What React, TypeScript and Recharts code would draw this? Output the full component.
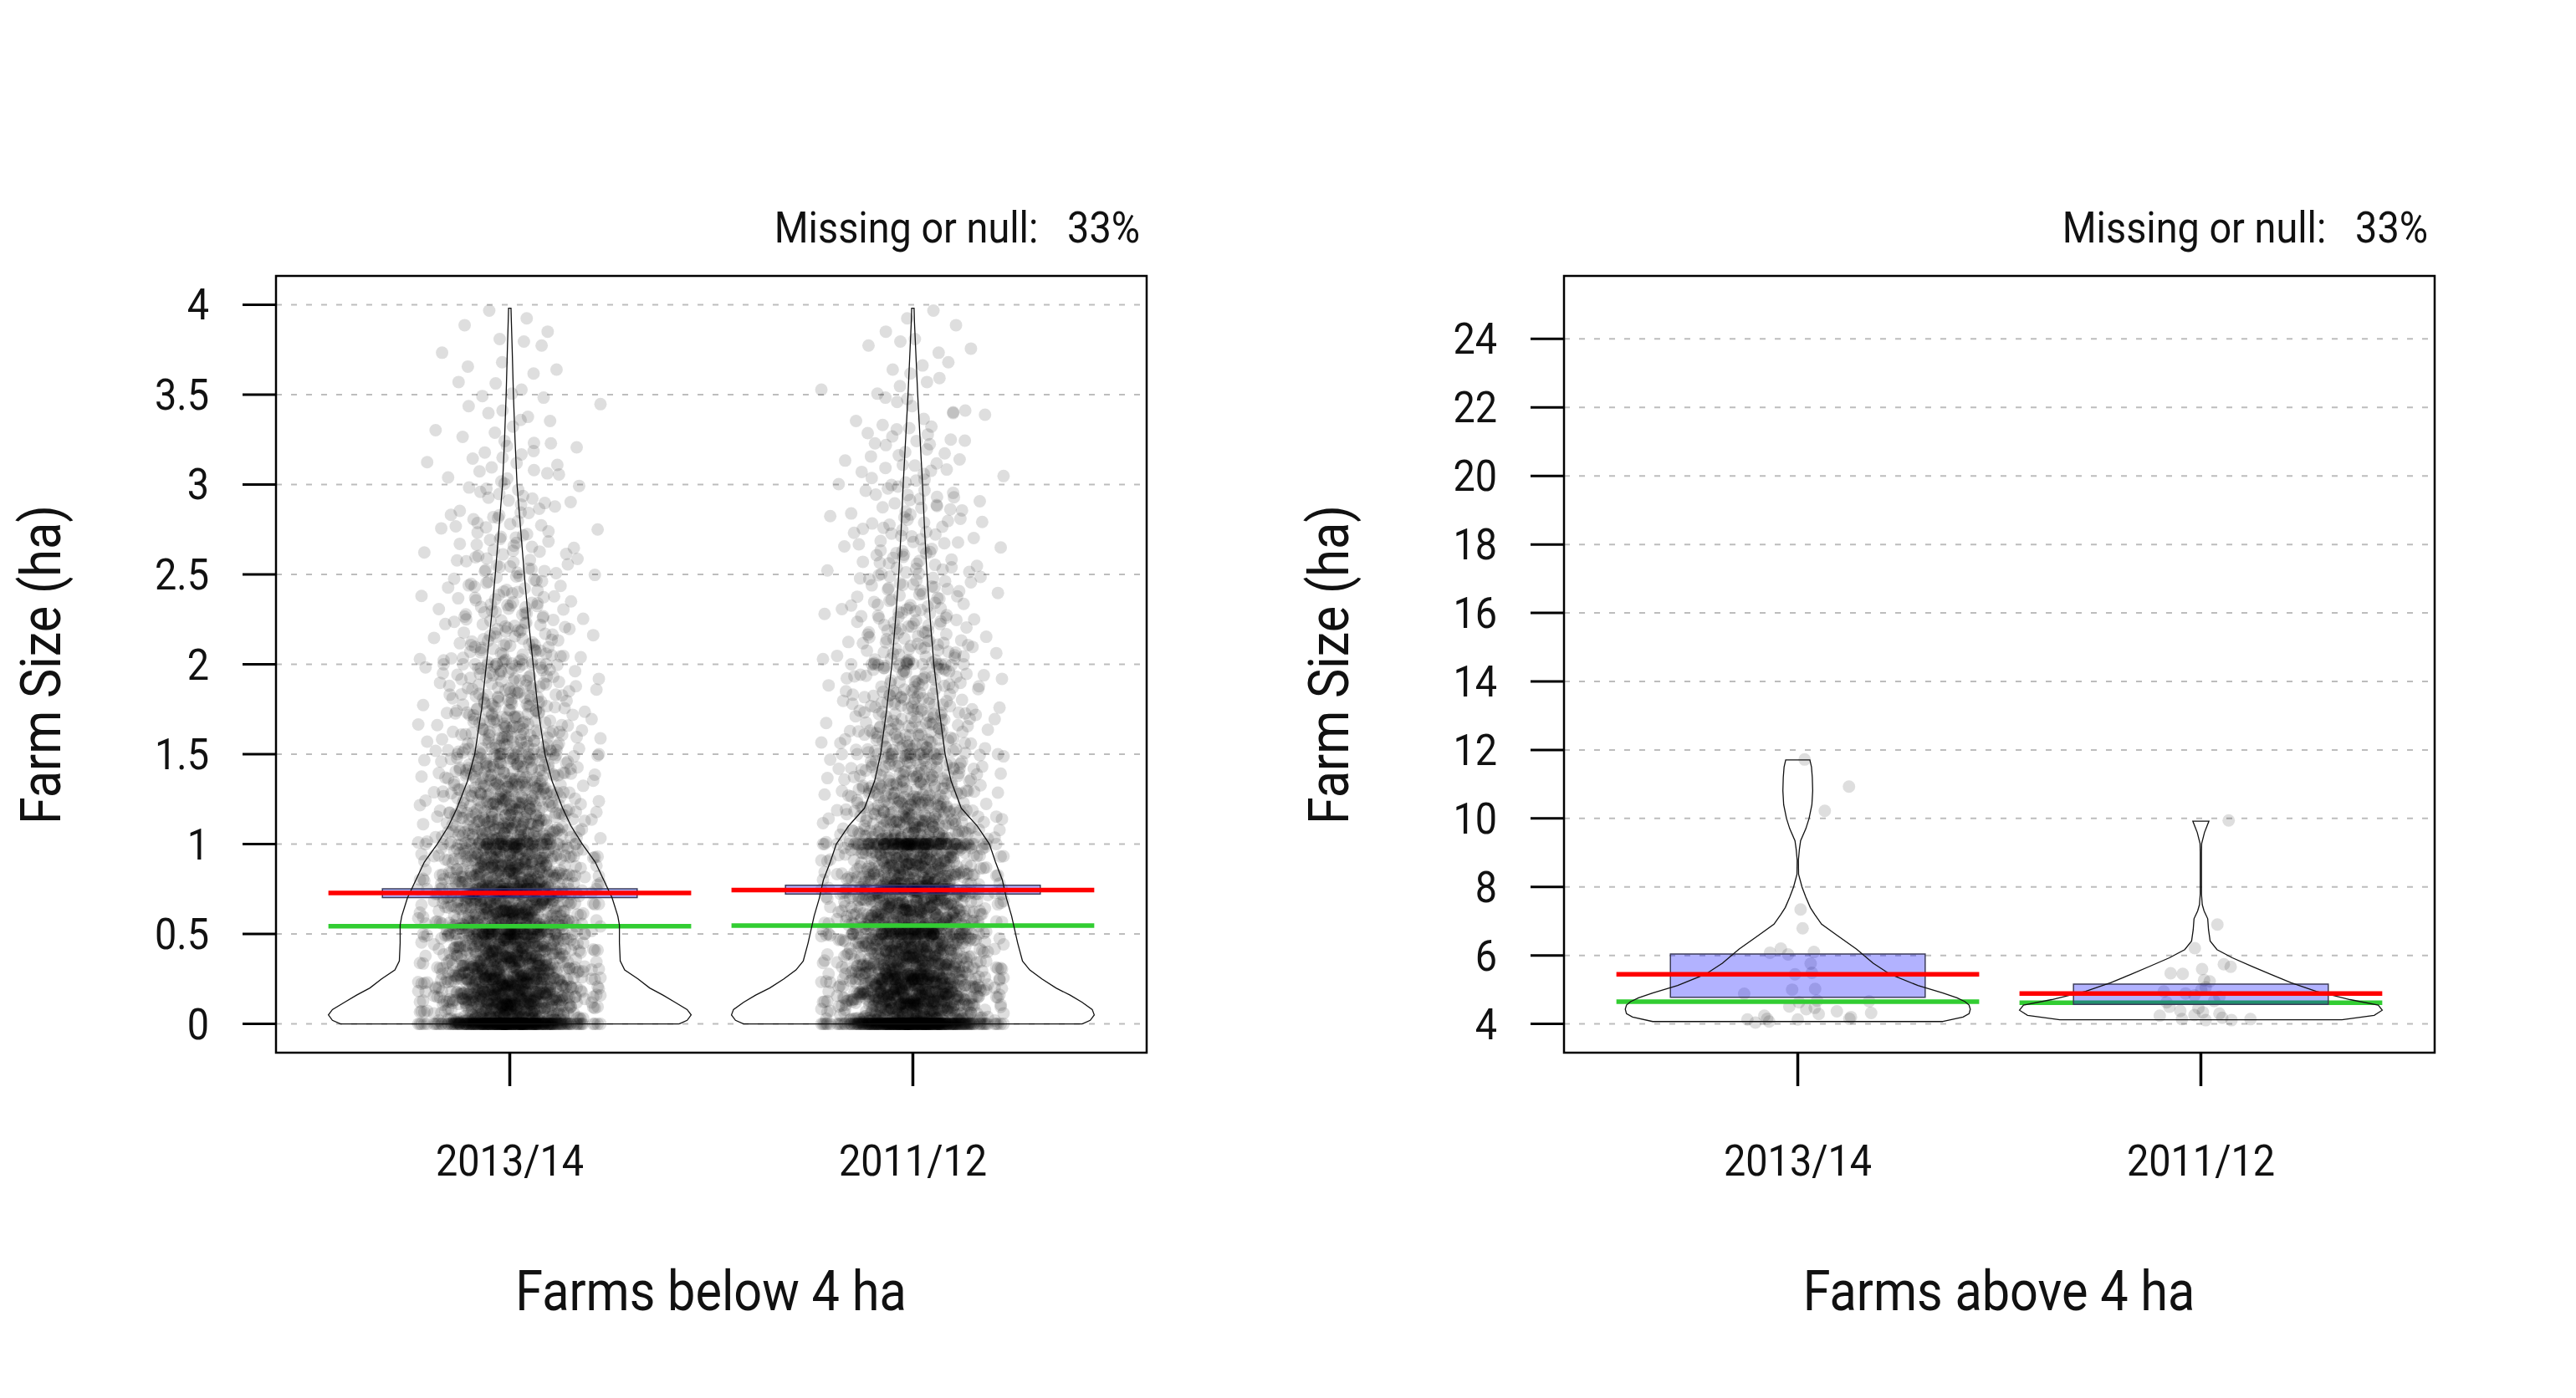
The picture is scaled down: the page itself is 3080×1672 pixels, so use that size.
import React from "react";
import {
  ScatterChart,
  Scatter,
  XAxis,
  YAxis,
  CartesianGrid,
  ReferenceArea,
  ReferenceLine,
} from "recharts";

// ---- categories ----
const years = ["2013/14", "2011/12"];
const yearPos = [1, 2];
const X_DOMAIN = [0.42, 2.58];

// ---- left panel: farms below 4 ha ----
const smallTicks = [0, 0.5, 1, 1.5, 2, 2.5, 3, 3.5, 4];
const smallDomain = [-0.16, 4.16];
// 0.1 ha bins, point counts
const smallBins = [0, 0.1, 0.2, 0.3, 0.4, 0.5, 0.6, 0.7, 0.8, 0.9, 1, 1.1, 1.2, 1.3, 1.4, 1.5, 1.6, 1.7, 1.8, 1.9, 2, 2.1, 2.2, 2.3, 2.4, 2.5, 2.6, 2.7, 2.8, 2.9, 3, 3.1, 3.2, 3.3, 3.4, 3.5, 3.6, 3.7, 3.8, 3.9];
const smallCounts2013 = [210, 265, 210, 190, 175, 175, 175, 160, 150, 135, 112, 98, 87, 77, 67, 55, 50, 45, 40, 36, 32, 29, 25, 22, 20, 18, 16, 14, 12, 11, 9, 8, 7, 6, 5, 4, 4, 3, 3, 2];
const smallCounts2011 = [210, 270, 215, 190, 180, 170, 165, 155, 143, 133, 105, 90, 72, 62, 54, 48, 44, 40, 36, 33, 30, 27, 24, 22, 20, 19, 17, 16, 14, 13, 11, 10, 9, 8, 6, 5, 4, 4, 3, 2];
// reported round sizes (heaping)
const heapSizes = [0, 0.25, 0.5, 0.75, 1, 1.5, 2];
const heapCounts2013 = [280, 20, 35, 28, 35, 10, 8];
const heapCounts2011 = [320, 26, 40, 33, 95, 12, 10];
// violin outline: size levels and half widths (x units)
const smallLevels = [0, 0.02, 0.05, 0.08, 0.12, 0.16, 0.2, 0.25, 0.3, 0.35, 0.45, 0.55, 0.6, 0.7, 0.8, 0.9, 1, 1.1, 1.2, 1.35, 1.5, 1.75, 2, 2.25, 2.5, 2.75, 3, 3.25, 3.5, 3.75, 3.9, 3.98];
const smallHalf2013 = [0.42, 0.44, 0.45, 0.44, 0.41, 0.38, 0.347, 0.318, 0.285, 0.274, 0.272, 0.272, 0.268, 0.254, 0.233, 0.212, 0.18, 0.152, 0.131, 0.105, 0.087, 0.07, 0.058, 0.046, 0.036, 0.027, 0.018, 0.013, 0.009, 0.006, 0.004, 0.003];
const smallHalf2011 = [0.42, 0.44, 0.45, 0.445, 0.42, 0.39, 0.355, 0.32, 0.29, 0.272, 0.26, 0.25, 0.245, 0.232, 0.222, 0.205, 0.19, 0.16, 0.12, 0.095, 0.08, 0.065, 0.052, 0.043, 0.035, 0.029, 0.024, 0.018, 0.012, 0.007, 0.004, 0.003];
const smallMean = [0.728, 0.745];
const smallMedian = [0.543, 0.547];
const smallBoxLow = [0.703, 0.722];
const smallBoxHigh = [0.751, 0.771];

// ---- right panel: farms above 4 ha ----
const bigTicks = [4, 6, 8, 10, 12, 14, 16, 18, 20, 22, 24];
const bigDomain = [3.16, 25.84];
const bigSizes2013 = [11.72, 10.93, 10.22, 7.34, 6.79, 6.08, 6.2, 6.03, 6.1, 5.76, 5.49, 5.45, 5.0, 5.02, 4.88, 4.63, 4.68, 4.51, 4.43, 4.29, 4.37, 4.66, 4.32, 4.2, 4.13, 4.15, 4.24, 4.13, 4.04, 4.07, 4.47, 4.15];
const bigJitter2013 = [0.017, 0.127, 0.067, 0.007, 0.012, -0.069, -0.042, -0.024, 0.04, 0.032, 0.035, -0.007, -0.014, 0.043, -0.133, 0.003, 0.048, -0.021, 0.021, 0.052, 0.097, 0.177, 0.182, 0.132, 0, -0.076, -0.083, -0.125, -0.105, -0.071, 0.042, 0.128];
const bigSizes2011 = [9.94, 6.9, 6.21, 5.74, 5.67, 5.6, 5.48, 5.46, 5.28, 5.24, 5.07, 4.99, 4.95, 4.89, 4.83, 4.79, 4.67, 4.63, 4.5, 4.46, 4.38, 4.34, 4.3, 4.24, 4.14, 4.26, 4.11, 4.18, 4.11, 4.14];
const bigJitter2011 = [0.069, 0.041, -0.015, 0.057, 0.074, 0.003, -0.075, -0.045, 0.008, 0.022, 0.012, 0.001, -0.092, -0.038, -0.016, 0.046, 0.033, -0.085, -0.078, -0.006, -0.051, 0.005, 0.046, -0.102, -0.047, -0.016, 0.012, 0.053, 0.076, 0.123];
const bigLevels2013 = [4.07, 4.2, 4.3, 4.43, 4.55, 4.65, 4.76, 4.9, 5.12, 5.45, 5.77, 6.18, 6.59, 6.91, 7.2, 7.4, 7.7, 8.0, 8.37, 8.78, 9.1, 9.35, 9.7, 10.0, 10.4, 10.81, 11.2, 11.5, 11.71];
const bigHalf2013 = [0.36, 0.41, 0.425, 0.428, 0.425, 0.415, 0.395, 0.36, 0.298, 0.229, 0.187, 0.146, 0.097, 0.059, 0.042, 0.031, 0.02, 0.0104, 0.002, 0.0015, 0.004, 0.007, 0.02, 0.028, 0.035, 0.037, 0.036, 0.034, 0.03];
const bigLevels2011 = [4.12, 4.25, 4.4, 4.55, 4.71, 4.95, 5.2, 5.44, 5.68, 5.93, 6.17, 6.42, 6.75, 7.07, 7.3, 7.48, 7.8, 8.5, 9.0, 9.27, 9.59, 9.92];
const bigHalf2011 = [0.35, 0.43, 0.45, 0.44, 0.37, 0.286, 0.224, 0.175, 0.127, 0.078, 0.04, 0.023, 0.019, 0.017, 0.008, 0.0035, 0.0015, 0.0015, 0.0015, 0.002, 0.009, 0.02];
const bigMean = [5.45, 4.89];
const bigMedian = [4.65, 4.62];
const bigBoxLow = [4.78, 4.57];
const bigBoxHigh = [6.04, 5.16];

// fixed jitter tables for spreading the dense cloud
const JITTER = [0.041, -0.104, 0.009, -0.032, 0.176, -0.063, 0.021, -0.005, 0.09, -0.141, 0.054, -0.017, 0.112, -0.045, 0.002, -0.078, 0.13, -0.024, 0.063, -0.215, 0.029, -0.084, 0.014, -0.05, 0.096, -0.009, 0.156, -0.037, 0.068, -0.12, 0.005, -0.059, 0.104, -0.002, 0.045, -0.176, 0.024, -0.09, 0.078, -0.014, 0.215, -0.068, 0.037, -0.13, 0.017, -0.041, 0.12, -0.029, 0.059, -0.096, 0.032, -0.156, 0.073, -0.021, 0.084, -0.112, 0.05, -0.054, 0.141, -0.073];
const SHIFT = [-0.012, 0.006, -0.004, 0.01, 0, -0.008, 0.003];
const WITHIN = [0.42, 0.07, 0.88, 0.31, 0.65, 0.14, 0.97, 0.53, 0.22, 0.76, 0.02, 0.59, 0.36, 0.83, 0.11, 0.47, 0.92, 0.27, 0.7, 0.05, 0.62, 0.39, 0.8, 0.17, 0.56, 0.95, 0.33, 0.73, 0.09, 0.5, 0.86, 0.24, 0.67, 0.44, 0.19, 0.78, 0.29];

type Pt = { x: number; y: number };

function cloud(center: number, bins: number[], counts: number[], heaps: number[], heapCounts: number[]): Pt[] {
  const pts: Pt[] = [];
  let k = 0;
  heaps.forEach((v, i) => {
    for (let n = 0; n < heapCounts[i]; n++, k++) {
      pts.push({ x: center + JITTER[k % JITTER.length] + SHIFT[k % SHIFT.length], y: v });
    }
  });
  bins.forEach((b, i) => {
    for (let n = 0; n < counts[i]; n++, k++) {
      pts.push({ x: center + JITTER[k % JITTER.length] + SHIFT[k % SHIFT.length], y: b + 0.1 * WITHIN[k % WITHIN.length] });
    }
  });
  return pts;
}

function listed(center: number, sizes: number[], jitter: number[]): Pt[] {
  return sizes.map((y, i) => ({ x: center + jitter[i], y }));
}

function violin(center: number, levels: number[], half: number[]): Pt[] {
  const right = levels.map((y, i) => ({ x: center + half[i], y }));
  const left = levels.map((y, i) => ({ x: center - half[i], y })).reverse();
  return [...right, ...left, right[0]];
}

// ---- text helpers (Roboto squeezed to look condensed) ----
const FONT = "Roboto, 'Liberation Sans', sans-serif";
const SQUEEZE = 0.9;
let measureCtx: CanvasRenderingContext2D | null = null;
function squeezed(s: string, size: number) {
  if (!measureCtx) measureCtx = document.createElement("canvas").getContext("2d");
  if (!measureCtx) return s.length * size * 0.45;
  measureCtx.font = `${size}px Roboto`;
  return measureCtx.measureText(s).width * SQUEEZE;
}

function Txt({ x, y, text, size, align = "middle", rotate = false }: any) {
  const w = squeezed(text, size);
  const dx = align === "start" ? 0 : align === "end" ? -w : -w / 2;
  return (
    <text
      transform={`translate(${x},${y})${rotate ? " rotate(-90)" : ""}`}
      x={dx}
      y={0}
      fontSize={size}
      fontFamily={FONT}
      fill="#111"
      textLength={w}
      lengthAdjust="spacingAndGlyphs"
      style={{ whiteSpace: "pre" }}
    >
      {text}
    </text>
  );
}

const YTick = (p: any) => <Txt x={p.x} y={p.y + 18} text={String(p.payload.value)} size={52} align="end" />;
const XTick = (p: any) => <Txt x={p.x} y={p.y + 107} text={years[yearPos.indexOf(p.payload.value)]} size={52} />;
const Dot = (p: any) => <circle cx={p.cx} cy={p.cy} r={7.5} fill="#000" fillOpacity={0.13} />;
const NoDot = () => <g />;

const PANEL_W = 1540;
const H = 1672;
const MARGIN = { top: 330, right: 169, bottom: 293, left: 130 };

function Panel({ domain, ticks, clouds, violins, mean, median, boxLow, boxHigh }: any) {
  return (
    <ScatterChart width={PANEL_W} height={H} margin={MARGIN}>
      <CartesianGrid vertical={false} stroke="#bdbdbd" strokeWidth={2} strokeDasharray="7 11" />
      <XAxis
        type="number"
        dataKey="x"
        domain={X_DOMAIN}
        ticks={yearPos}
        allowDataOverflow
        height={120}
        axisLine={false}
        tickSize={40}
        tickMargin={0}
        tickLine={{ stroke: "#000", strokeWidth: 3.5 }}
        tick={XTick}
        interval={0}
      />
      <YAxis
        type="number"
        dataKey="y"
        domain={domain}
        ticks={ticks}
        allowDataOverflow
        width={200}
        axisLine={false}
        tickSize={40}
        tickMargin={40}
        tickLine={{ stroke: "#000", strokeWidth: 3 }}
        tick={YTick}
        interval={0}
      />
      {clouds.map((c: Pt[], i: number) => (
        <Scatter key={`pts${i}`} data={c} shape={Dot} isAnimationActive={false} zIndex={600} />
      ))}
      {yearPos.map((c, i) => (
        <ReferenceLine
          key={`med${i}`}
          segment={[{ x: c - 0.45, y: median[i] }, { x: c + 0.45, y: median[i] }]}
          stroke="#32cd32"
          strokeWidth={5.5}
          zIndex={610}
        />
      ))}
      {yearPos.map((c, i) => (
        <ReferenceArea
          key={`box${i}`}
          x1={c - 0.316}
          x2={c + 0.316}
          y1={boxLow[i]}
          y2={boxHigh[i]}
          fill="#0000ff"
          fillOpacity={0.3}
          stroke="#3c3c5a"
          strokeWidth={1.5}
          zIndex={620}
        />
      ))}
      {violins.map((v: Pt[], i: number) => (
        <Scatter
          key={`vio${i}`}
          data={v}
          shape={NoDot}
          line={{ stroke: "#111", strokeWidth: 1.3 }}
          lineType="joint"
          isAnimationActive={false}
          zIndex={630}
        />
      ))}
      {yearPos.map((c, i) => (
        <ReferenceLine
          key={`mean${i}`}
          segment={[{ x: c - 0.45, y: mean[i] }, { x: c + 0.45, y: mean[i] }]}
          stroke="#ff0000"
          strokeWidth={5.5}
          zIndex={640}
        />
      ))}
      <ReferenceArea
        x1={X_DOMAIN[0]}
        x2={X_DOMAIN[1]}
        y1={domain[0]}
        y2={domain[1]}
        fill="none"
        stroke="#000"
        strokeWidth={2.5}
        zIndex={650}
      />
    </ScatterChart>
  );
}

export default function App() {
  const leftClouds = [
    cloud(1, smallBins, smallCounts2013, heapSizes, heapCounts2013),
    cloud(2, smallBins, smallCounts2011, heapSizes, heapCounts2011),
  ];
  const leftViolins = [violin(1, smallLevels, smallHalf2013), violin(2, smallLevels, smallHalf2011)];
  const rightClouds = [listed(1, bigSizes2013, bigJitter2013), listed(2, bigSizes2011, bigJitter2011)];
  const rightViolins = [violin(1, bigLevels2013, bigHalf2013), violin(2, bigLevels2011, bigHalf2011)];

  return (
    <div style={{ position: "fixed", left: 0, top: 0, width: 3080, height: H, background: "#fff" }}>
      <div style={{ position: "absolute", left: 0, top: 0 }}>
        <Panel
          domain={smallDomain}
          ticks={smallTicks}
          clouds={leftClouds}
          violins={leftViolins}
          mean={smallMean}
          median={smallMedian}
          boxLow={smallBoxLow}
          boxHigh={smallBoxHigh}
        />
      </div>
      <div style={{ position: "absolute", left: PANEL_W, top: 0 }}>
        <Panel
          domain={bigDomain}
          ticks={bigTicks}
          clouds={rightClouds}
          violins={rightViolins}
          mean={bigMean}
          median={bigMedian}
          boxLow={bigBoxLow}
          boxHigh={bigBoxHigh}
        />
      </div>
      <svg
        width={3080}
        height={H}
        style={{ position: "absolute", left: 0, top: 0, pointerEvents: "none" }}
      >
        <Txt x={1363} y={290} text="Missing or null:   33%" size={52} align="end" />
        <Txt x={2903} y={290} text="Missing or null:   33%" size={52} align="end" />
        <Txt x={72} y={795} text="Farm Size (ha)" size={66} rotate />
        <Txt x={1612} y={795} text="Farm Size (ha)" size={66} rotate />
        <Txt x={850} y={1567} text="Farms below 4 ha" size={66} />
        <Txt x={2390} y={1567} text="Farms above 4 ha" size={66} />
      </svg>
    </div>
  );
}
